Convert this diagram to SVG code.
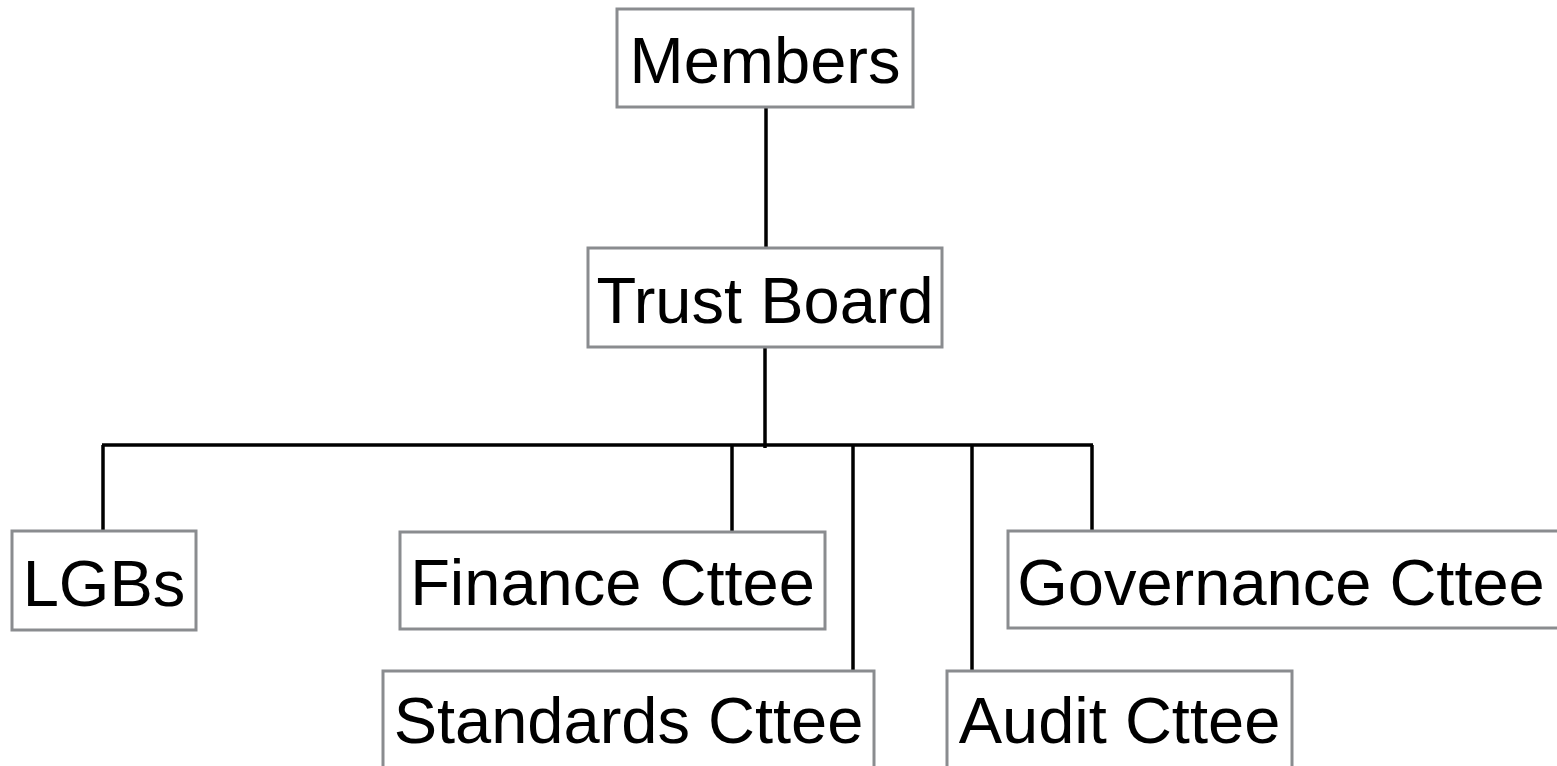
<svg xmlns="http://www.w3.org/2000/svg" width="1557" height="766" viewBox="0 0 1557 766">
  <style>
    .box { fill: #ffffff; stroke: #8a8c8f; stroke-width: 3; }
    .label { font-family: "Liberation Sans", Arial, sans-serif; font-size: 65px; fill: #000000; text-anchor: middle; }
    .link { fill: none; stroke: #000000; stroke-width: 3.5; }
  </style>
  <rect width="1557" height="766" fill="#ffffff"/>

  <!-- connectors -->
  <g id="connectors">
    <line class="link" x1="766" y1="108" x2="766" y2="248"/>
    <line class="link" x1="765" y1="347" x2="765" y2="448"/>
    <line class="link" x1="102" y1="445" x2="1093" y2="445"/>
    <line class="link" x1="103" y1="445" x2="103" y2="531"/>
    <line class="link" x1="732" y1="445" x2="732" y2="532"/>
    <line class="link" x1="853" y1="445" x2="853" y2="671"/>
    <line class="link" x1="972" y1="445" x2="972" y2="671"/>
    <line class="link" x1="1092" y1="445" x2="1092" y2="531"/>
  </g>

  <!-- nodes -->
  <g id="members">
    <rect class="box" x="617" y="9" width="296" height="98"/>
    <text class="label" x="765" y="83">Members</text>
  </g>
  <g id="trust-board">
    <rect class="box" x="588" y="248" width="354" height="99"/>
    <text class="label" x="765" y="323">Trust Board</text>
  </g>
  <g id="lgbs">
    <rect class="box" x="12" y="531" width="184" height="99"/>
    <text class="label" x="104" y="606">LGBs</text>
  </g>
  <g id="finance-cttee">
    <rect class="box" x="400" y="532" width="425" height="97"/>
    <text class="label" x="612.5" y="605">Finance Cttee</text>
  </g>
  <g id="standards-cttee">
    <rect class="box" x="383" y="671" width="491" height="110"/>
    <text class="label" x="628.5" y="743">Standards Cttee</text>
  </g>
  <g id="audit-cttee">
    <rect class="box" x="947" y="671" width="345" height="110"/>
    <text class="label" x="1119.5" y="743">Audit Cttee</text>
  </g>
  <g id="governance-cttee">
    <rect class="box" x="1008" y="531" width="560" height="97"/>
    <text class="label" x="1281" y="605">Governance Cttee</text>
  </g>
</svg>
